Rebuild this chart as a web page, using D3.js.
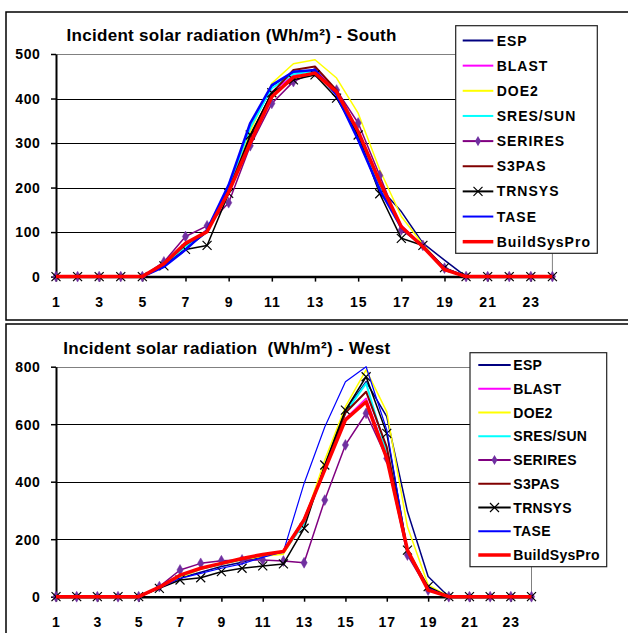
<!DOCTYPE html>
<html><head><meta charset="utf-8">
<script src="https://cdn.jsdelivr.net/npm/d3@7"></script>
<style>
body{margin:0;background:#fff}
svg{display:block}
text{font-family:"Liberation Sans",Arial,sans-serif;font-weight:bold;fill:#000}
</style>
</head><body>
<svg id="c" width="628" height="633"></svg>
<script>
// ---------- DATA ----------
const hours = [1,2,3,4,5,6,7,8,9,10,11,12,13,14,15,16,17,18,19,20,21,22,23,24];
const xTickLabels = [1,3,5,7,9,11,13,15,17,19,21,23];
const southYTicks = [0,100,200,300,400,500];
const westYTicks = [0,200,400,600,800];
const seriesNames = ["ESP","BLAST","DOE2","SRES/SUN","SERIRES","S3PAS","TRNSYS","TASE","BuildSysPro"];
const seriesColors = ["#000080","#FF00FF","#FFFF00","#00FFFF","#800080","#800000","#000000","#0000FF","#FF0000"];
const seriesMarkers = ["none","none","none","none","diamond","none","x","none","none"];
const southTitle = "Incident solar radiation (Wh/m²) - South";
const westTitle = "Incident solar radiation  (Wh/m²) - West";

// South
const southESP     = [0,0,0,0,0,22,62,100,200,335,428,460,462,410,312,200,146,75,37,0,0,0,0,0];
const southBLAST   = [0,0,0,0,0,28,72,102,195,310,415,452,465,415,325,210,115,68,18,0,0,0,0,0];
const southDOE2    = [0,0,0,0,0,24,68,102,200,326,434,478,487,446,367,240,135,72,20,0,0,0,0,0];
const southSRES    = [0,0,0,0,0,26,68,102,200,335,423,455,461,412,317,206,112,68,18,0,0,0,0,0];
const southSERIRES = [0,0,0,0,0,33,90,114,166,294,389,438,460,419,345,227,105,70,19,0,0,0,0,0];
const southS3PAS   = [0,0,0,0,0,28,72,102,195,315,412,464,472,419,325,210,112,68,16,0,0,0,0,0];
const southTRNSYS  = [0,0,0,0,0,24,61,70,187,318,413,442,453,401,318,186,86,70,20,0,0,0,0,0];
const southTASE    = [0,0,0,0,0,22,60,105,206,345,430,460,464,408,307,195,110,68,18,0,0,0,0,0];
const southBSP     = [0,0,0,0,0,29,75,101,190,300,404,448,457,415,326,213,112,67,16,0,0,0,0,0];

// West
const westESP     = [0,0,0,0,0,30,65,85,105,120,140,155,255,455,649,748,626,296,70,0,0,0,0,0];
const westBLAST   = [0,0,0,0,0,33,75,98,115,132,147,157,265,440,620,690,490,160,24,0,0,0,0,0];
const westDOE2    = [0,0,0,0,0,30,67,95,112,128,141,148,261,475,661,789,643,243,41,0,0,0,0,0];
const westSRES    = [0,0,0,0,0,32,72,97,114,130,145,155,255,450,640,742,500,160,25,0,0,0,0,0];
const westSERIRES = [0,0,0,0,0,35,93,116,125,128,128,124,118,336,528,638,481,145,23,0,0,0,0,0];
const westS3PAS   = [0,0,0,0,0,32,74,98,115,131,146,156,270,445,640,713,520,160,25,0,0,0,0,0];
const westTRNSYS  = [0,0,0,0,0,29,58,66,87,99,107,114,238,458,649,765,568,162,35,0,0,0,0,0];
const westTASE    = [0,0,0,0,0,30,64,81,99,114,137,157,394,590,748,800,580,160,30,0,0,0,0,0];
const westBSP     = [0,0,0,0,0,33,75,99,116,133,147,157,267,441,615,678,481,162,23,0,0,0,0,0];

const southValues = [southESP,southBLAST,southDOE2,southSRES,southSERIRES,southS3PAS,southTRNSYS,southTASE,southBSP];
const westValues  = [westESP,westBLAST,westDOE2,westSRES,westSERIRES,westS3PAS,westTRNSYS,westTASE,westBSP];

// ---------- DRAW ----------
const svg = d3.select("#c");

function drawChart(cfg){
  const g = svg.append("g");
  g.append("rect").attr("x",6).attr("y",cfg.boxTop).attr("width",700).attr("height",cfg.boxH)
    .attr("fill","#fff").attr("stroke","#000").attr("stroke-width",1.5);

  const x = d3.scaleLinear().domain([1,24]).range([56,cfg.xRight]);
  const ymax = cfg.yTicks[cfg.yTicks.length-1];
  const y = d3.scaleLinear().domain([0,ymax]).range([cfg.yZero,cfg.yTop]);

  const grid = g.append("g").attr("transform","translate(56,0)")
    .call(d3.axisLeft(y).tickValues(cfg.yTicks.filter(v=>v>0)).tickSize(-(cfg.xRight-56)).tickFormat(""));
  grid.select(".domain").remove();
  grid.selectAll(".tick line").attr("stroke",d=>d===ymax?"#808080":"#000").attr("stroke-width",1).attr("shape-rendering","crispEdges");
  g.append("line").attr("x1",x(24)).attr("x2",x(24)).attr("y1",y(ymax)).attr("y2",y(0))
    .attr("stroke","#808080").attr("stroke-width",1);

  const ya = g.append("g").attr("transform","translate(56,0)")
    .call(d3.axisLeft(y).tickValues(cfg.yTicks).tickSize(5).tickPadding(10).tickSizeOuter(0));
  ya.select(".domain").attr("stroke","#000").attr("stroke-width",2);
  ya.selectAll(".tick line").attr("stroke","#000").attr("stroke-width",1.5);
  ya.selectAll(".tick text").attr("font-size",14).attr("font-family","Liberation Sans, Arial")
    .attr("font-weight","bold").attr("letter-spacing","0.6px").attr("dy","0.35em").attr("x",-15.5);

  const xa = g.append("g").attr("transform",`translate(0,${y(0)})`)
    .call(d3.axisBottom(x).tickValues(xTickLabels).tickSize(5).tickPadding(15).tickSizeOuter(0).tickFormat(d=>d));
  xa.select(".domain").attr("stroke","#000").attr("stroke-width",2.5);
  xa.selectAll(".tick line").attr("stroke","#000").attr("stroke-width",1.5);
  xa.selectAll(".tick text").attr("font-size",14).attr("font-family","Liberation Sans, Arial")
    .attr("font-weight","bold").attr("letter-spacing","1px");

  const line = d3.line().x((d,i)=>x(hours[i])).y(d=>y(d));
  cfg.values.forEach((vals,si)=>{
    g.append("path").attr("d",line(vals)).attr("fill","none")
      .attr("stroke",seriesColors[si]).attr("stroke-width",cfg.widths[si]).attr("stroke-linejoin","round");
    if(seriesMarkers[si]==="diamond"){
      g.selectAll(null).data(vals).enter().append("path")
        .attr("d",d3.symbol(d3.symbolDiamond,34)())
        .attr("transform",(d,i)=>`translate(${x(hours[i])},${y(d)})`)
        .attr("fill","#7030A0").attr("stroke","#7030A0").attr("stroke-width",0.5);
    } else if(seriesMarkers[si]==="x"){
      g.selectAll(null).data(vals).enter().append("path")
        .attr("d",(d,i)=>{const cx=x(hours[i]),cy=y(d),r=4.5;return `M${cx-r},${cy-r}L${cx+r},${cy+r}M${cx-r},${cy+r}L${cx+r},${cy-r}`;})
        .attr("stroke","#000").attr("stroke-width",1.2).attr("fill","none");
    }
  });

  g.append("text").attr("x",cfg.titleX).attr("y",cfg.titleY).attr("font-size",17)
    .attr("letter-spacing","0.3px").style("white-space","pre").text(cfg.title);

  const L = cfg.legend;
  g.append("rect").attr("x",L.x).attr("y",L.y).attr("width",L.w).attr("height",L.h)
    .attr("fill","#fff").attr("stroke","#222").attr("stroke-width",1.2);
  seriesNames.forEach((nm,si)=>{
    const cy = L.first + si*L.step;
    g.append("line").attr("x1",L.lx1).attr("x2",L.lx2).attr("y1",cy).attr("y2",cy)
      .attr("stroke",seriesColors[si]).attr("stroke-width",si===8?3.5:2);
    const mx=(L.lx1+L.lx2)/2;
    if(seriesMarkers[si]==="diamond"){
      g.append("path").attr("d",d3.symbol(d3.symbolDiamond,30)()).attr("transform",`translate(${mx},${cy})`)
        .attr("fill","#7030A0");
    } else if(seriesMarkers[si]==="x"){
      const r=4.5;
      g.append("path").attr("d",`M${mx-r},${cy-r}L${mx+r},${cy+r}M${mx-r},${cy+r}L${mx+r},${cy-r}`)
        .attr("stroke","#000").attr("stroke-width",1.2);
    }
    g.append("text").attr("x",L.tx).attr("y",cy+5).attr("font-size",14)
      .attr("letter-spacing",L.ls).text(nm);
  });
}

drawChart({
  boxTop:12, boxH:308, xRight:552.4, yZero:276.6, yTop:54, yTicks:southYTicks,
  values:southValues, title:southTitle, titleX:66.5, titleY:41,
  widths:[1.5,1.5,1.5,2,1.5,2,1.5,2.5,3.5],
  legend:{x:455.7,y:25.7,w:141.6,h:227.6,first:40.5,step:25.15,lx1:462.7,lx2:493.3,tx:496.7,ls:"1px"}
});
drawChart({
  boxTop:324, boxH:330, xRight:531.5, yZero:596.7, yTop:366.7, yTicks:westYTicks,
  values:westValues, title:westTitle, titleX:63.3, titleY:353.5,
  widths:[1.5,1.5,1.5,2,1.5,2,1.5,1.2,3.5],
  legend:{x:470,y:352.7,w:136.7,h:214,first:365,step:23.75,lx1:478.3,lx2:510.7,tx:513.3,ls:"0.3px"}
});
</script>
</body></html>
